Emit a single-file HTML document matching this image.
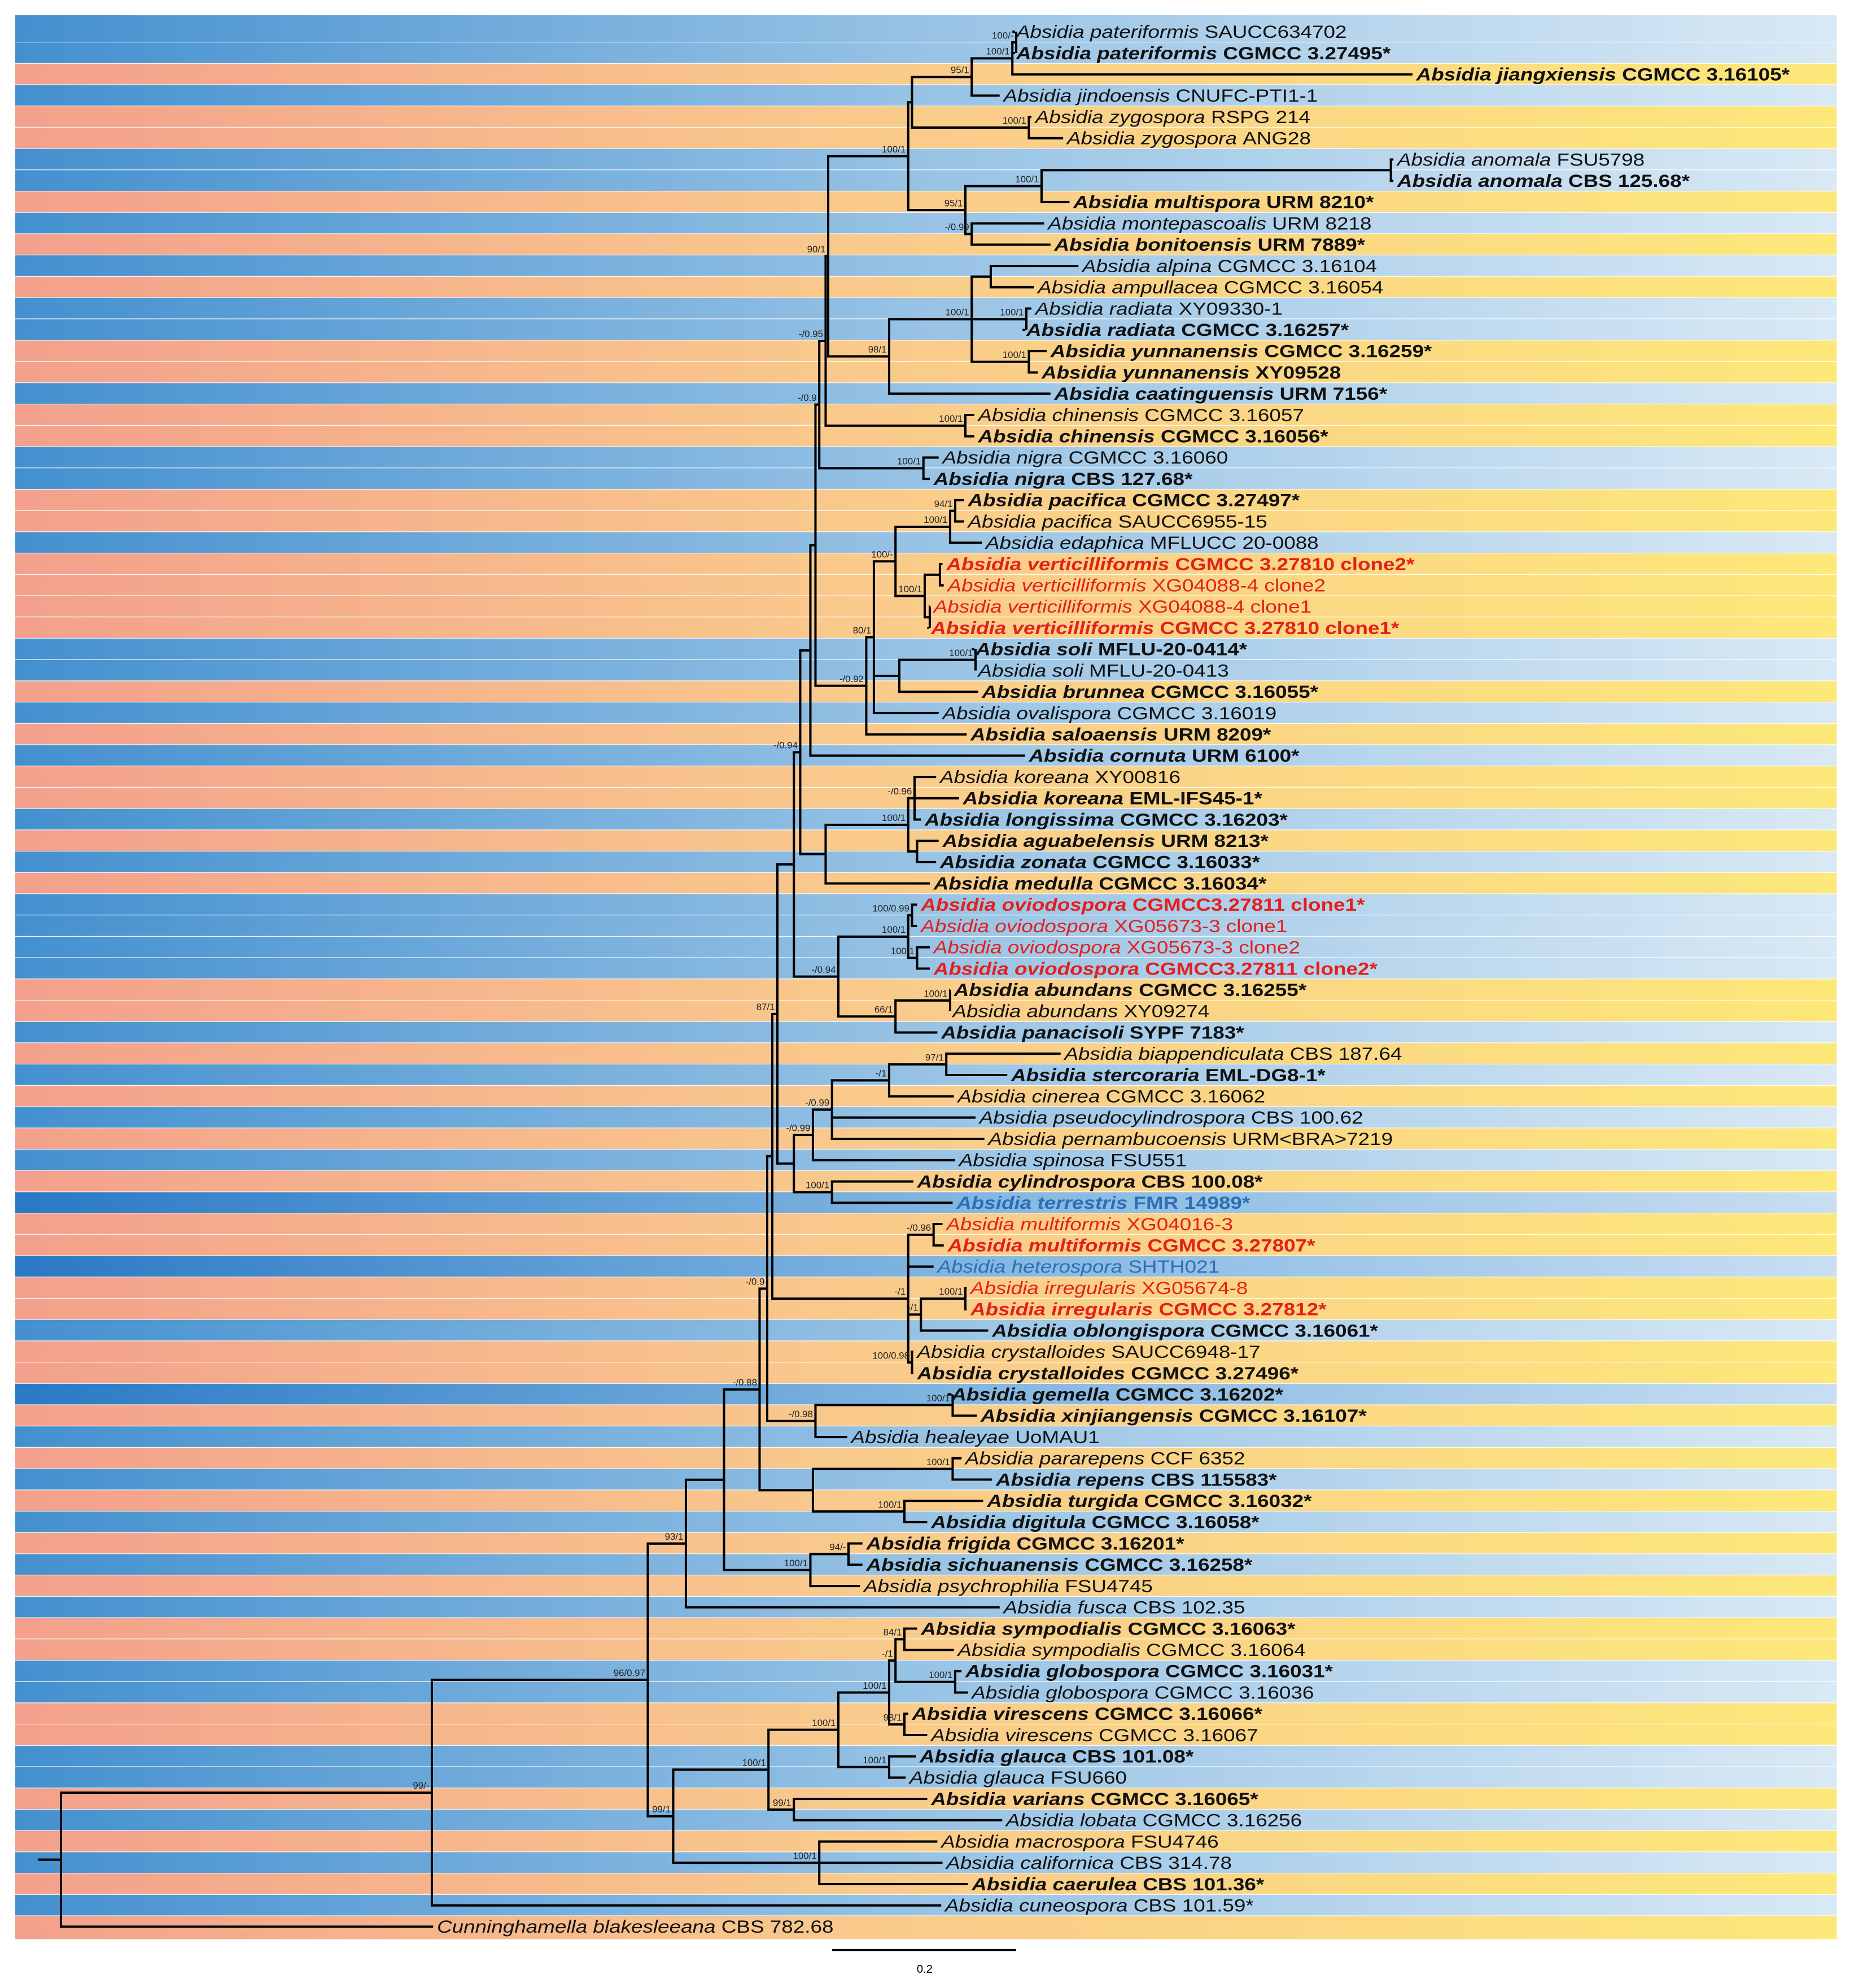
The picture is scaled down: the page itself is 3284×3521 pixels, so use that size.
<!DOCTYPE html>
<html><head><meta charset="utf-8"><style>
html,body{margin:0;padding:0;background:#fff;}
svg{display:block;}
</style></head><body>
<svg id="tree" width="3284" height="3521" viewBox="0 0 1459.6 1564.9" preserveAspectRatio="none" xmlns="http://www.w3.org/2000/svg">
<defs>
<linearGradient id="gb" x1="0" x2="1"><stop offset="0" stop-color="#4490cf"/><stop offset="0.5" stop-color="#98c3e5"/><stop offset="1" stop-color="#d9e9f5"/></linearGradient>
<linearGradient id="gd" x1="0" x2="1"><stop offset="0" stop-color="#2a79c5"/><stop offset="0.5" stop-color="#7fb4e0"/><stop offset="1" stop-color="#c8def2"/></linearGradient>
<linearGradient id="go" x1="0" x2="1"><stop offset="0" stop-color="#f3a08c"/><stop offset="0.45" stop-color="#f9c98c"/><stop offset="1" stop-color="#fde87a"/></linearGradient>
</defs>
<g id="bands"></g><g id="branches"></g><g id="labels"></g><g id="support"></g>
<g>
<line x1="655" y1="1535" x2="800" y2="1535" stroke="#000" stroke-width="1.6"/>
<text x="728" y="1553" font-family="Liberation Sans, sans-serif" font-size="9" text-anchor="middle">0.2</text>
</g>
</svg>
<script>
const taxa=["Absidia pateriformis SAUCC634702","Absidia pateriformis CGMCC 3.27495*","Absidia jiangxiensis CGMCC 3.16105*","Absidia jindoensis CNUFC-PTI1-1","Absidia zygospora RSPG 214","Absidia zygospora ANG28","Absidia anomala FSU5798","Absidia anomala CBS 125.68*","Absidia multispora URM 8210*","Absidia montepascoalis URM 8218","Absidia bonitoensis URM 7889*","Absidia alpina CGMCC 3.16104","Absidia ampullacea CGMCC 3.16054","Absidia radiata XY09330-1","Absidia radiata CGMCC 3.16257*","Absidia yunnanensis CGMCC 3.16259*","Absidia yunnanensis XY09528","Absidia caatinguensis URM 7156*","Absidia chinensis CGMCC 3.16057","Absidia chinensis CGMCC 3.16056*","Absidia nigra CGMCC 3.16060","Absidia nigra CBS 127.68*","Absidia pacifica CGMCC 3.27497*","Absidia pacifica SAUCC6955-15","Absidia edaphica MFLUCC 20-0088","Absidia verticilliformis CGMCC 3.27810 clone2*","Absidia verticilliformis XG04088-4 clone2","Absidia verticilliformis XG04088-4 clone1","Absidia verticilliformis CGMCC 3.27810 clone1*","Absidia soli MFLU-20-0414*","Absidia soli MFLU-20-0413","Absidia brunnea CGMCC 3.16055*","Absidia ovalispora CGMCC 3.16019","Absidia saloaensis URM 8209*","Absidia cornuta URM 6100*","Absidia koreana XY00816","Absidia koreana EML-IFS45-1*","Absidia longissima CGMCC 3.16203*","Absidia aguabelensis URM 8213*","Absidia zonata CGMCC 3.16033*","Absidia medulla CGMCC 3.16034*","Absidia oviodospora CGMCC3.27811 clone1*","Absidia oviodospora XG05673-3 clone1","Absidia oviodospora XG05673-3 clone2","Absidia oviodospora CGMCC3.27811 clone2*","Absidia abundans CGMCC 3.16255*","Absidia abundans XY09274","Absidia panacisoli SYPF 7183*","Absidia biappendiculata CBS 187.64","Absidia stercoraria EML-DG8-1*","Absidia cinerea CGMCC 3.16062","Absidia pseudocylindrospora CBS 100.62","Absidia pernambucoensis URM<BRA>7219","Absidia spinosa FSU551","Absidia cylindrospora CBS 100.08*","Absidia terrestris FMR 14989*","Absidia multiformis XG04016-3","Absidia multiformis CGMCC 3.27807*","Absidia heterospora SHTH021","Absidia irregularis XG05674-8","Absidia irregularis CGMCC 3.27812*","Absidia oblongispora CGMCC 3.16061*","Absidia crystalloides SAUCC6948-17","Absidia crystalloides CGMCC 3.27496*","Absidia gemella CGMCC 3.16202*","Absidia xinjiangensis CGMCC 3.16107*","Absidia healeyae UoMAU1","Absidia pararepens CCF 6352","Absidia repens CBS 115583*","Absidia turgida CGMCC 3.16032*","Absidia digitula CGMCC 3.16058*","Absidia frigida CGMCC 3.16201*","Absidia sichuanensis CGMCC 3.16258*","Absidia psychrophilia FSU4745","Absidia fusca CBS 102.35","Absidia sympodialis CGMCC 3.16063*","Absidia sympodialis CGMCC 3.16064","Absidia globospora CGMCC 3.16031*","Absidia globospora CGMCC 3.16036","Absidia virescens CGMCC 3.16066*","Absidia virescens CGMCC 3.16067","Absidia glauca CBS 101.08*","Absidia glauca FSU660","Absidia varians CGMCC 3.16065*","Absidia lobata CGMCC 3.16256","Absidia macrospora FSU4746","Absidia californica CBS 314.78","Absidia caerulea CBS 101.36*","Absidia cuneospora CBS 101.59*","Cunninghamella blakesleeana CBS 782.68"];
const boldRows=[2,3,8,9,11,15,16,17,18,20,22,23,26,29,30,32,34,35,37,38,39,40,41,42,45,46,48,50,55,56,58,61,62,64,65,66,69,70,71,72,73,76,78,80,82,84,88];
const redRows=[26,27,28,29,42,43,44,45,57,58,60,61];
const blueTextRows=[56,59];
const darkBandRows=[56,59,65];
const tipX=[800,800,1115,790,815,840,1100,1100,845,825,830,852,817,815,808,827,820,830,770,770,742,735,762,762,776,745,746,735,733,768,770,773,742,764,810,740,758,728,742,740,735,725,725,735,735,751,750,741,838,796,754,771,778,755,722,753,745,746,738,764,764,781,722,722,749,772,670,760,784,777,733,682,682,680,790,725,754,760,765,718,733,724,716,733,792,741,745,765,744,344];

const Y0=25, DY=16.76;
function rowY(i){return Y0+i*DY;}
function N(x,l,...c){return {x:x,l:l,c:c};}
function L(n){return n-1;}
const GS=N(800,'100/-',L(1),L(2)), GR=N(797,'100/1',GS,L(3)), GP=N(765,'95/1',GR,L(4)), GQ=N(810,'100/1',L(5),L(6));
const GK=N(718,'',GP,GQ), GN=N(1095,'',L(7),L(8)), GM=N(820,'100/1',GN,L(9)), GO=N(765,'-/0.99',L(10),L(11));
const GL=N(760,'95/1',GM,GO), GE=N(715,'100/1',GK,GL);
const GH=N(780,'',L(12),L(13)), GI=N(808,'100/1',L(14),L(15)), GJ=N(810,'100/1',L(16),L(17));
const GG=N(765,'100/1',GH,GI,GJ), GF=N(700,'98/1',GG,L(18)), GC=N(652,'90/1',GE,GF);
const GD=N(760,'100/1',L(19),L(20)), GA=N(650,'-/0.95',GC,GD), GB=N(727,'100/1',L(21),L(22)), FA=N(645,'-/0.9',GA,GB);
const FI=N(752,'94/1',L(23),L(24)), FH=N(748,'100/1',FI,L(25)), FG1=N(740,'',L(26),L(27)), FG2=N(732,'',L(28),L(29));
const FG=N(728,'100/1',FG1,FG2), FD=N(705,'100/-',FH,FG), FJ=N(768,'100/1',L(30),L(31)), FE=N(708,'',FJ,L(32));
const FC=N(688,'80/1',FD,FE,L(33)), FB=N(682,'-/0.92',FC,L(34)), EA=N(642,'',FA,FB), DA1=N(638,'',EA,L(35));
const DD=N(720,'-/0.96',L(36),L(37),L(38)), DE=N(722,'',L(39),L(40)), DC=N(715,'100/1',DD,DE), DB=N(650,'',DC,L(41));
const CA=N(630,'-/0.94',DA1,DB);
const CE=N(718,'100/0.99',L(42),L(43)), CF=N(722,'100/1',L(44),L(45)), CC=N(715,'100/1',CE,CF);
const CG=N(748,'100/1',L(46),L(47)), CD=N(705,'66/1',CG,L(48)), CB=N(660,'-/0.94',CC,CD), T1=N(625,'',CA,CB);
const BE=N(745,'97/1',L(49),L(50)), BD=N(700,'-/1',BE,L(51)), BC=N(655,'-/0.99',BD,L(52),L(53)), BA=N(640,'-/0.99',BC,L(54));
const BB=N(655,'100/1',L(55),L(56)), T2=N(625,'',BA,BB), TOP=N(612,'87/1',T1,T2);
const AC=N(735,'-/0.96',L(57),L(58)), AF=N(760,'100/1',L(60),L(61)), AD=N(725,'-/1',AF,L(62)), AE=N(718,'100/0.98',L(63),L(64));
const AB=N(715,'-/1',AC,L(59),AD,AE), X=N(608,'',TOP,AB);
const Z=N(750,'100/1',L(65),L(66)), Yn=N(642,'-/0.98',Z,L(67)), T=N(604,'-/0.9',X,Yn);
const V=N(750,'100/1',L(68),L(69)), W=N(712,'100/1',L(70),L(71)), U=N(640,'',V,W), Q=N(598,'-/0.88',T,U);
const S=N(668,'94/-',L(72),L(73)), R=N(638,'100/1',S,L(74)), P=N(570,'',Q,R), B=N(540,'93/1',P,L(75));
const M=N(712,'84/1',L(76),L(77)), Nn=N(752,'100/1',L(78),L(79)), K=N(705,'-/1',M,Nn), Lnode=N(712,'98/1',L(80),L(81));
const I=N(700,'100/1',K,Lnode), J=N(700,'100/1',L(82),L(83)), G=N(660,'100/1',I,J), H=N(625,'99/1',L(84),L(85));
const D=N(605,'100/1',G,H), E=N(645,'100/1',L(86),L(87),L(88)), Cbot=N(530,'99/1',D,E);
const A=N(510,'96/0.97',B,Cbot), N340=N(340,'99/-',A,L(89)), ROOT=N(48,'',N340,L(90));

const SVGNS="http://www.w3.org/2000/svg";
function mk(tag,attrs,parent){const e=document.createElementNS(SVGNS,tag);for(const k in attrs)e.setAttribute(k,attrs[k]);parent.appendChild(e);return e;}
const gBands=document.getElementById('bands'),gBr=document.getElementById('branches'),gLab=document.getElementById('labels'),gSup=document.getElementById('support');

let prevSp=null, col=0;
taxa.forEach((t,i)=>{
  const sp=t.split(' ').slice(0,2).join(' ');
  if(sp!==prevSp){col=1-col;prevSp=sp;}
  const isBlue=(col===1);
  const y1=(i===0?12:rowY(i)-DY/2), y2=(i===taxa.length-1?1527:rowY(i)+DY/2);
  const fill=isBlue?(darkBandRows.includes(i+1)?'url(#gd)':'url(#gb)'):'url(#go)';
  const r=mk('rect',{x:12,y:y1,width:1434,height:y2-y1-0.5,fill:fill},gBands);
  
  
});

taxa.forEach((t,i)=>{
  const n=i+1;
  const w=t.split(' ');
  const txt=mk('text',{x:0,y:0,transform:'translate('+tipX[i]+','+(rowY(i)+4.8)+') scale(1.17,1)','font-family':'Liberation Sans, sans-serif','font-size':'14'},gLab);
  
  
  let fillc='#111';
  if(redRows.includes(n))fillc='#e3201c';
  if(blueTextRows.includes(n))fillc='#2d6fb5';
  txt.setAttribute('fill',fillc);
  if(boldRows.includes(n))txt.setAttribute('font-weight','bold');
  const a=mk('tspan',{'font-style':'italic'},txt);a.textContent=w[0]+' '+w[1]+' ';
  const b=mk('tspan',{},txt);b.textContent=w.slice(2).join(' ');
});

function layout(nd){
  if(typeof nd==='number'){return {y:rowY(nd),x:tipX[nd]-3};}
  const ys=nd.c.map(ch=>layout(ch));
  const ymin=Math.min(...ys.map(o=>o.y)),ymax=Math.max(...ys.map(o=>o.y));
  const vl=mk('line',{x1:nd.x,y1:ymin,x2:nd.x,y2:ymax,stroke:'#000','stroke-width':1.8},gBr);
  
  
  nd.c.forEach((ch,k)=>{
    const hl=mk('line',{x1:nd.x-0.9,y1:ys[k].y,x2:ys[k].x,y2:ys[k].y,stroke:'#000','stroke-width':1.8},gBr);
    
    
    if(typeof ch!=='number' && ch.l){
      const s=mk('text',{x:ch.x-2,y:ys[k].y-3,'font-family':'Liberation Sans, sans-serif','font-size':'7.5','text-anchor':'end',fill:'#222'},gSup);
      s.textContent=ch.l;
      
      
    }
  });
  return {y:(ymin+ymax)/2,x:nd.x};
}
const r=layout(ROOT);
const stub=mk('line',{x1:30,y1:r.y,x2:48,y2:r.y,stroke:'#000','stroke-width':1.8},gBr);


</script>
</body></html>
